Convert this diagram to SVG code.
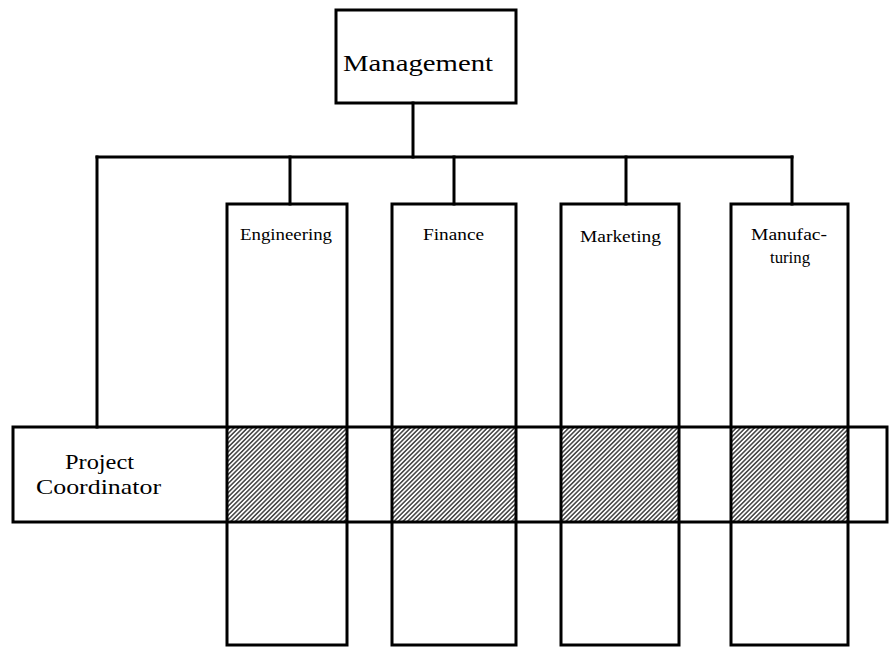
<svg xmlns="http://www.w3.org/2000/svg" width="890" height="647" viewBox="0 0 890 647">
<style>
.box{fill:none;stroke:#000;stroke-width:3}
.conn{fill:none;stroke:#000;stroke-width:3;stroke-linecap:square}
.hatch{fill:url(#hatch);stroke:none}
text{font-family:"Liberation Serif","Times New Roman",serif;fill:#000}
.lab{font-size:16px}
</style>
<defs>
<pattern id="hatch" patternUnits="userSpaceOnUse" width="3.2" height="3.2" patternTransform="rotate(45)">
<rect width="3.2" height="3.2" fill="#fff"/>
<line x1="0.8" y1="0" x2="0.8" y2="3.2" stroke="#222" stroke-width="1.3"/>
</pattern>
</defs>
<rect width="890" height="647" fill="#fff"/>
<g id="connectors">
<line class="conn" x1="413" y1="103" x2="413" y2="157"/>
<line class="conn" x1="97" y1="157" x2="792" y2="157"/>
<line class="conn" x1="97" y1="157" x2="97" y2="427"/>
<line class="conn" x1="290" y1="157" x2="290" y2="204"/>
<line class="conn" x1="454" y1="157" x2="454" y2="204"/>
<line class="conn" x1="626" y1="157" x2="626" y2="204"/>
<line class="conn" x1="792" y1="157" x2="792" y2="204"/>
</g>
<g id="management">
<rect class="box" x="336" y="10" width="180" height="93"/>
<text x="343" y="71" font-size="24" textLength="150" lengthAdjust="spacingAndGlyphs">Management</text>
</g>
<g id="hatching">
<rect class="hatch" x="227" y="427" width="120" height="95"/>
<rect class="hatch" x="392" y="427" width="124" height="95"/>
<rect class="hatch" x="561" y="427" width="118" height="95"/>
<rect class="hatch" x="731" y="427" width="117" height="95"/>
</g>
<g id="project-coordinator">
<rect class="box" x="13" y="427" width="874" height="95"/>
<text x="65" y="469" font-size="21" textLength="69" lengthAdjust="spacingAndGlyphs">Project</text>
<text x="36" y="494" font-size="21" textLength="125" lengthAdjust="spacingAndGlyphs">Coordinator</text>
</g>
<g id="engineering">
<rect class="box" x="227" y="204" width="120" height="441"/>
<text class="lab" x="240" y="240" textLength="92" lengthAdjust="spacingAndGlyphs">Engineering</text>
</g>
<g id="finance">
<rect class="box" x="392" y="204" width="124" height="441"/>
<text class="lab" x="423" y="240" textLength="61" lengthAdjust="spacingAndGlyphs">Finance</text>
</g>
<g id="marketing">
<rect class="box" x="561" y="204" width="118" height="441"/>
<text class="lab" x="580" y="242" textLength="81" lengthAdjust="spacingAndGlyphs">Marketing</text>
</g>
<g id="manufacturing">
<rect class="box" x="731" y="204" width="117" height="441"/>
<text class="lab" x="751" y="240" textLength="76" lengthAdjust="spacingAndGlyphs">Manufac-</text>
<text class="lab" x="770" y="263" textLength="40" lengthAdjust="spacingAndGlyphs">turing</text>
</g>
</svg>
